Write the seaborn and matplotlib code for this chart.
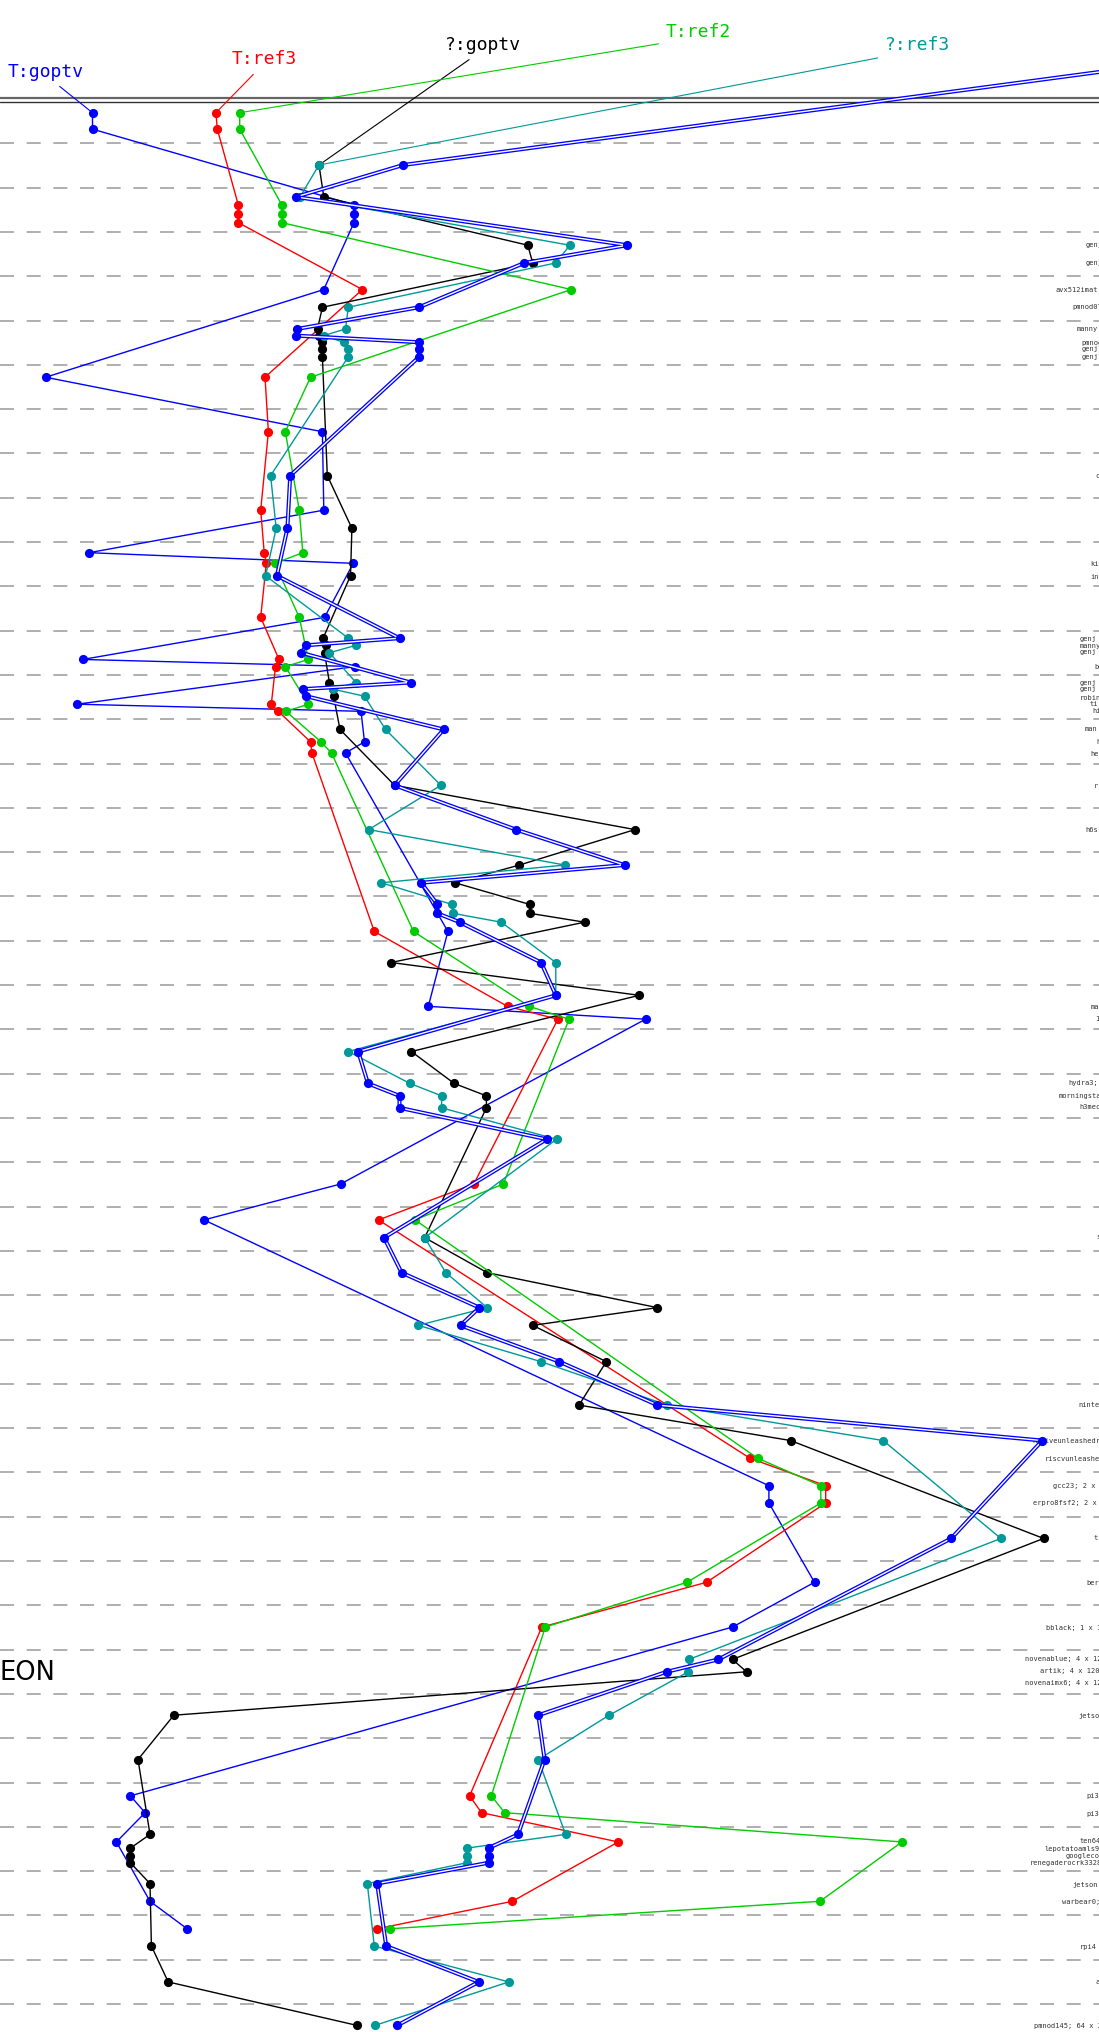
"""
Ladder chart: goptv / ref timings per machine (T: and ? runs)
"""
import numpy as np
import pandas as pd
import seaborn as sns
import matplotlib.pyplot as plt

# row positions (grid steps, top to bottom) of the T: measurements
t_rows = [-0.69, -0.32, 1.39, 1.60, 1.79, 3.30, 5.28, 6.51, 8.28, 9.24,
          9.48, 10.70, 11.65, 11.81, 12.66, 12.82, 13.51, 13.76, 17.79, 19.48,
          19.77, 23.49, 24.30, 29.68, 30.30, 30.69, 32.48, 33.49, 37.30, 37.68,
          38.34, 39.68, 40.30]
t_goptv = [9.25, 9.25, 35.4, 35.4, 35.4, 32.38, 4.56, 32.24, 32.38, 8.9,
           35.33, 32.45, 8.27, 35.54, 7.71, 36.1, 36.45, 34.55, 44.79, 42.83,
           64.55, 34.06, 20.4, np.nan, 76.89, 76.89, 81.45, 73.25, 13.04, 14.51,
           11.64, 15.0, 18.71]
t_ref3 = [21.59, 21.73, 23.83, 23.83, 23.83, 36.24, 26.5, 26.84, 26.07, 26.42,
          26.63, 26.07, 27.9, 27.55, 27.13, 27.83, 31.05, 31.19, 37.43, 50.75,
          55.79, 47.38, 37.85, 75.0, 82.57, 82.57, 70.65, 54.18, 46.96, 48.15,
          61.82, 51.24, 37.71]
t_ref2 = [23.97, 23.97, 28.18, 28.18, 28.18, 57.12, 31.05, 28.53, 29.93, 30.28,
          27.48, 29.93, 30.84, 28.53, 30.84, 28.6, 32.1, 33.15, 41.35, 52.92,
          56.91, 50.33, 41.5, 75.77, 82.08, 82.08, 68.69, 54.53, 49.13, 50.47,
          90.2, 82.0, 38.97]

# row positions of the ?: measurements
q_rows = [0.49, 1.21, 2.30, 2.70, 3.70, 4.19, 4.34, 4.49, 4.65, 4.82,
          7.50, 8.69, 9.76, 11.17, 11.33, 11.50, 12.17, 12.32, 12.48, 13.23,
          14.49, 15.49, 16.29, 16.69, 17.18, 17.38, 17.58, 18.49, 19.23, 20.50,
          21.22, 21.50, 21.77, 22.48, 24.70, 25.49, 26.28, 26.68, 27.50, 28.48,
          29.28, 31.49, 34.22, 34.50, 35.48, 36.48, 38.17, 38.48, 38.65, 38.81,
          39.28, 40.69, 41.50, 42.48]
q_goptv = [31.9, 32.38, 52.78, 53.27, 32.24, 31.75, 31.9, 32.24, 32.24, 32.24,
           32.73, 35.19, 35.05, 32.31, 32.59, 32.45, 32.94, 33.3, 33.36, 34.0,
           39.46, 63.5, 51.94, 45.49, 52.99, 52.99, 58.46, 39.11, 63.92, 41.14,
           45.42, 48.64, 48.64, np.nan, 42.47, 48.71, 65.74, 53.27, 60.63, 57.9,
           79.06, 104.36, 73.25, 74.65, 17.38, 13.8, 15.0, 13.04, 13.04, 13.04,
           15.0, 15.14, 16.82, 35.68]
q_ref3 = [31.89, 30.0, 56.98, 55.58, 34.83, 34.55, 32.38, 34.35, 34.83, 34.83,
          27.06, 27.62, 26.56, 34.83, 35.6, 32.94, 35.6, 33.3, 36.45, 38.55,
          44.09, 36.87, 56.5, 38.13, 45.21, 45.28, 50.12, 55.58, 55.58, 34.83,
          41.0, 44.16, 44.16, 55.65, 42.47, 44.58, 48.71, 41.84, 54.11, 66.73,
          88.32, 100.09, 68.9, 68.83, 60.91, 53.83, 56.56, 46.68, 46.68, 46.68,
          36.73, 37.43, 50.88, 37.5]
q_ref2 = [40.3, 29.58, 62.73, 52.43, 41.91, 29.72, 29.58, 41.91, 41.91, 41.91,
          29.02, 28.74, 27.69, 39.95, 30.63, 30.14, 41.07, 30.28, 30.63, 44.37,
          39.46, 51.59, 62.45, 42.12, 43.74, 43.74, 45.98, 54.11, 55.58, 35.82,
          36.8, 39.95, 39.95, 54.67, 38.41, 40.16, 47.94, 46.05, 55.93, 65.74,
          104.23, 95.12, 71.84, 66.66, 53.83, 54.46, 51.8, 48.85, 48.85, 48.85,
          37.71, 38.62, 47.87, 39.74]

series_names = ['T:goptv', 'T:ref3', '?:goptv', 'T:ref2', '?:ref3', '?:ref2']
series_colors = ['#0000ff', '#ff0000', '#000000', '#00cc00', '#009999', '#0000ff']
# where the series names sit above the ladder (x value, row)
name_pos = [(4.55, -1.62), (26.4, -1.90), (48.25, -2.22), (69.85, -2.51),
            (91.77, -2.21), (129.0, -2.33)]
name_relpos = [0.59, 0.43, 0.43, 0.14, 0.17, 0.2]

# machine labels at the right (row, x start, text) - cut off by the page edge
machine_rows = [2.30, 2.70, 3.30, 3.70, 4.19, 4.51, 4.65, 4.82, 7.50, 9.50,
                9.78, 11.19, 11.34, 11.49, 11.81, 12.18, 12.32, 12.51, 12.66, 12.82,
                13.23, 13.51, 13.78, 14.51, 15.49, 19.50, 19.77, 21.22, 21.50, 21.76,
                24.69, 28.48, 29.29, 29.69, 30.30, 30.70, 31.49, 32.49, 33.51, 34.22,
                34.49, 34.76, 35.50, 37.31, 37.72, 38.33, 38.50, 38.65, 38.81, 39.31,
                39.69, 40.71, 41.50, 42.49]
machine_x = [108.6, 108.6, 105.6, 107.27, 107.7, 108.17, 108.17, 108.17, 109.57, 109.0,
             109.0, 108.0, 108.0, 108.0, 109.4, 108.0, 108.0, 108.0, 109.0, 109.23,
             108.5, 109.67, 109.07, 109.4, 108.5, 109.07, 109.5, 106.83, 105.83, 107.93,
             109.67, 107.83, 103.27, 104.5, 105.33, 103.27, 109.4, 108.6, 104.6, 102.5,
             104.0, 102.5, 107.83, 108.6, 108.6, 108.0, 104.43, 106.6, 103.0, 107.27,
             106.17, 108.0, 109.57, 103.43]
machine_names = ['genj', 'genj', 'avx512imat', 'pmnod07', 'manny', 'pmnod', 'genj1', 'genj1',
                 'cx', 'ki', 'in', 'genj', 'manny', 'genj', 'be', 'genj', 'genj', 'robin',
                 'ti', 'hi', 'man', 'h', 'he', 'r', 'h6s', 'ma', '1', 'hydra3;',
                 'morningsta', 'h3mec', 's', 'ninte', 'hifiveunleashedr', 'riscvunleashe',
                 'gcc23; 2 x 2', 'erpro8fsf2; 2 x 2', 't', 'ber', 'bblack; 1 x 1',
                 'novenablue; 4 x 12', 'artik; 4 x 120', 'novenaimx6; 4 x 12', 'jetso',
                 'pi3', 'pi3', 'ten64', 'lepotatoamls9', 'googleco', 'renegaderocrk3328',
                 'jetson', 'warbear0;', 'rpi4', 'a', 'pmnod145; 64 x 2']


def main():
    sns.set_style('white')
    plt.rcParams['lines.scale_dashes'] = False

    fig = plt.figure(figsize=(10.99, 20.32), dpi=100)
    ax = fig.add_axes([0, 0, 1, 1])

    series_rows = [t_rows, t_rows, q_rows, t_rows, q_rows, q_rows]
    series_vals = [t_goptv, t_ref3, q_goptv, t_ref2, q_ref3, q_ref2]

    for i, (name, color, rows, vals) in enumerate(zip(series_names, series_colors,
                                                     series_rows, series_vals)):
        df = pd.DataFrame({'row': rows, 'value': vals}).dropna()
        z = 3 + i * 0.1
        hollow = name == '?:ref2'
        if hollow:
            # drawn as a hollow double line
            sns.lineplot(data=df, x='value', y='row', sort=False, estimator=None,
                         color=color, lw=2.9, zorder=z, ax=ax)
            sns.lineplot(data=df, x='value', y='row', sort=False, estimator=None,
                         color='white', lw=1.0, zorder=z + 0.01, ax=ax)
            sns.scatterplot(data=df, x='value', y='row', color=color, s=44,
                            linewidth=0, zorder=z + 0.02, ax=ax)
        else:
            sns.lineplot(data=df, x='value', y='row', sort=False, estimator=None,
                         color=color, lw=1.0, marker='o', markersize=6.6,
                         markeredgewidth=0, zorder=z, ax=ax)

        # series name with a leader line to its first point
        first = (df['value'].iloc[0], df['row'].iloc[0])
        lead_styles = [(color, 2.9, 2.5), ('white', 1.0, 2.6)] if hollow else [(color, 0.8, 2.5)]
        for lead_color, lead_w, lead_z in lead_styles:
            ax.annotate(name, xy=first, xytext=name_pos[i],
                        ha='center', va='center', color=color, fontsize=13,
                        family='DejaVu Sans Mono', zorder=lead_z,
                        arrowprops=dict(arrowstyle='-', color=lead_color, lw=lead_w,
                                        relpos=(name_relpos[i], 0), shrinkA=3, shrinkB=0))

    # double rule under the series names
    ax.axhline(-1.027, color='#666666', lw=1.6, zorder=1)
    ax.axhline(-0.928, color='#333333', lw=1.0, zorder=1)

    for row, x, text in zip(machine_rows, machine_x, machine_names):
        ax.text(x, row, text, ha='left', va='center', fontsize=5,
                family='DejaVu Sans Mono', color='#333333', zorder=2)

    ax.text(0, 34.69, 'EON', ha='left', va='baseline', fontsize=18.5,
            family='DejaVu Sans', color='black')

    ax.set_xlim(0, 109.9)
    ax.set_ylim(42.63, -3.235)
    ax.set_yticks(np.arange(0, 43))
    ax.set_xticks([])
    ax.grid(axis='y', color='#9a9a9a', linewidth=1.1, linestyle=(0, (10.1, 9.1)))
    ax.set_axisbelow(True)
    ax.tick_params(length=0, labelleft=False, labelbottom=False)
    ax.set_xlabel('')
    ax.set_ylabel('')
    for spine in ax.spines.values():
        spine.set_visible(False)

    fig.savefig('out.png', dpi=100)


if __name__ == "__main__":
    main()
